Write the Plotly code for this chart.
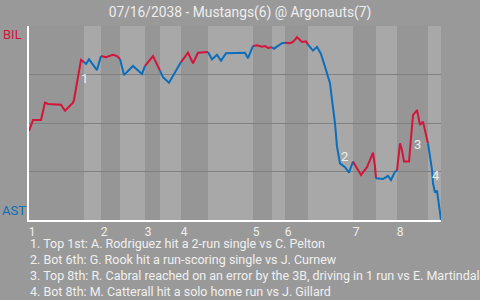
import plotly.graph_objects as go

# ---- data ----
title = "07/16/2038 - Mustangs(6) @ Argonauts(7)"
away_abbr, home_abbr = "BIL", "AST"
red, blue = "#d4143a", "#0a6ebd"

# game progress (play units) and BIL win probability (%)
progress = [0, 4, 12, 16, 19, 32, 36, 44, 45, 48, 50, 52, 55, 57, 60, 68, 72,
            77, 80, 84, 88, 91, 95, 100, 104, 113, 116, 124, 131, 134, 140, 151,
            152, 159, 164, 169, 179, 183, 188, 192, 197, 216, 219, 224, 228, 233,
            236, 239, 243, 245, 253, 256, 261, 264, 268, 273, 277, 279, 284, 288,
            292, 296, 301, 303, 306, 308, 311, 316, 320, 324, 332, 338, 344, 346,
            347, 354, 359, 362, 366, 368, 371, 373, 375, 380, 384, 388, 391, 394,
            399, 403, 404, 406, 408, 411, 412]
wp = [45.9, 51.5, 51.5, 60.5, 59.8, 59.4, 56.3, 60.5, 61.9, 70.5, 76.4, 82.5,
      81.4, 80.4, 82.8, 77.3, 84.5, 83.9, 84.5, 85.2, 84.5, 83.0, 74.7, 77.3,
      79.4, 75.3, 79.4, 84.5, 77.0, 73.6, 70.8, 80.8, 81.4, 86.2, 80.8, 86.2,
      86.6, 82.8, 85.2, 82.1, 85.9, 86.2, 83.4, 89.7, 90.1, 89.3, 89.7, 88.7,
      89.0, 88.3, 91.1, 91.4, 91.1, 91.8, 94.2, 91.8, 92.1, 90.4, 87.3, 89.3,
      85.6, 79.0, 70.5, 61.9, 49.8, 37.8, 29.2, 27.2, 24.4, 30.1, 23.2, 27.2,
      34.7, 27.5, 21.5, 21.1, 22.7, 20.6, 24.9, 25.4, 39.5, 36.0, 30.1, 30.1,
      54.1, 56.7, 49.0, 50.7, 39.5, 25.8, 18.9, 14.1, 15.1, 2.6, 0.0]

# half-inning boundaries (in play units); even index = top half
half_bounds = [0, 55, 72, 91, 116, 131, 152, 179, 224, 243, 256, 279, 324,
               347, 368, 399, 412]
inning_labels = ["1", "2", "3", "4", "5", "6", "7", "8"]

event_ids = ["1", "2", "3", "4"]
event_x = [55, 315, 388, 407]
event_wp = [73.0, 32.6, 39.0, 22.7]
event_text = [
    "1. Top 1st: A. Rodriguez hit a 2-run single vs C. Pelton",
    "2. Bot 6th: G. Rook hit a run-scoring single vs J. Curnew",
    "3. Top 8th: R. Cabral reached on an error by the 3B, driving in 1 run vs E. Martindale",
    "4. Bot 8th: M. Catterall hit a solo home run vs J. Gillard",
]

# ---- figure ----
fig = go.Figure()

shapes = []
for i in range(len(half_bounds) - 1):
    if i % 2 == 1:
        shapes.append(dict(type="rect", xref="x", yref="paper",
                           x0=half_bounds[i], x1=half_bounds[i + 1], y0=0, y1=1,
                           fillcolor="#a8a8a8", line=dict(width=0), layer="below"))

for i in range(len(half_bounds) - 1):
    s, e = half_bounds[i], half_bounds[i + 1]
    xs, ys = [], []
    for j, (x, y) in enumerate(zip(progress, wp)):
        if s <= x <= e:
            if not xs and x > s and j > 0:
                xs.append(progress[j - 1]); ys.append(wp[j - 1])
            xs.append(x); ys.append(y)
    fig.add_trace(go.Scatter(x=xs, y=ys, mode="lines",
                             line=dict(color=red if i % 2 == 0 else blue, width=2),
                             hoverinfo="skip", showlegend=False))

annotations = []
for t, x, y in zip(event_ids, event_x, event_wp):
    annotations.append(dict(x=x, y=y, xref="x", yref="y", text=t, showarrow=False,
                            font=dict(color="#eeeeee", size=13)))
for k, t in enumerate(event_text):
    annotations.append(dict(x=0, y=0, xref="paper", yref="paper", text=t,
                            showarrow=False, xanchor="left", yanchor="middle",
                            xshift=-1, yshift=-(23 + 16 * k),
                            font=dict(color="#f0f0f0", size=12.5)))
annotations.append(dict(x=0, y=1, xref="paper", yref="paper", text=away_abbr,
                        showarrow=False, xanchor="left", yanchor="top",
                        xshift=-28, yshift=1, font=dict(color=red, size=13)))
annotations.append(dict(x=0, y=0, xref="paper", yref="paper", text=home_abbr,
                        showarrow=False, xanchor="left", yanchor="bottom",
                        xshift=-29, yshift=0, font=dict(color=blue, size=13)))

fig.update_layout(
    width=480, height=300,
    margin=dict(l=29, r=39, t=26, b=80),
    paper_bgcolor="#999999", plot_bgcolor="#969696",
    font=dict(family="Roboto", color="#eeeeee"),
    title=dict(text=title, x=0.5, xref="container", xanchor="center",
               y=1 - 12 / 300, yref="container", yanchor="middle",
               font=dict(size=13.8, color="#eeeeee")),
    shapes=shapes, annotations=annotations, showlegend=False,
)
fig.update_xaxes(range=[0, 412], showgrid=False, zeroline=False,
                 showline=True, linecolor="white", linewidth=2,
                 tickvals=half_bounds[0:-1:2], ticktext=inning_labels,
                 ticks="", ticklabelshift=3,
                 tickfont=dict(color="#eeeeee", size=12))
fig.update_yaxes(range=[0, 100], tickvals=[25, 50, 75, 100], showticklabels=False,
                 showgrid=True, gridcolor="#808080", gridwidth=1, zeroline=False,
                 showline=True, linecolor="white", linewidth=2, ticks="")

fig.write_html("out.html")
